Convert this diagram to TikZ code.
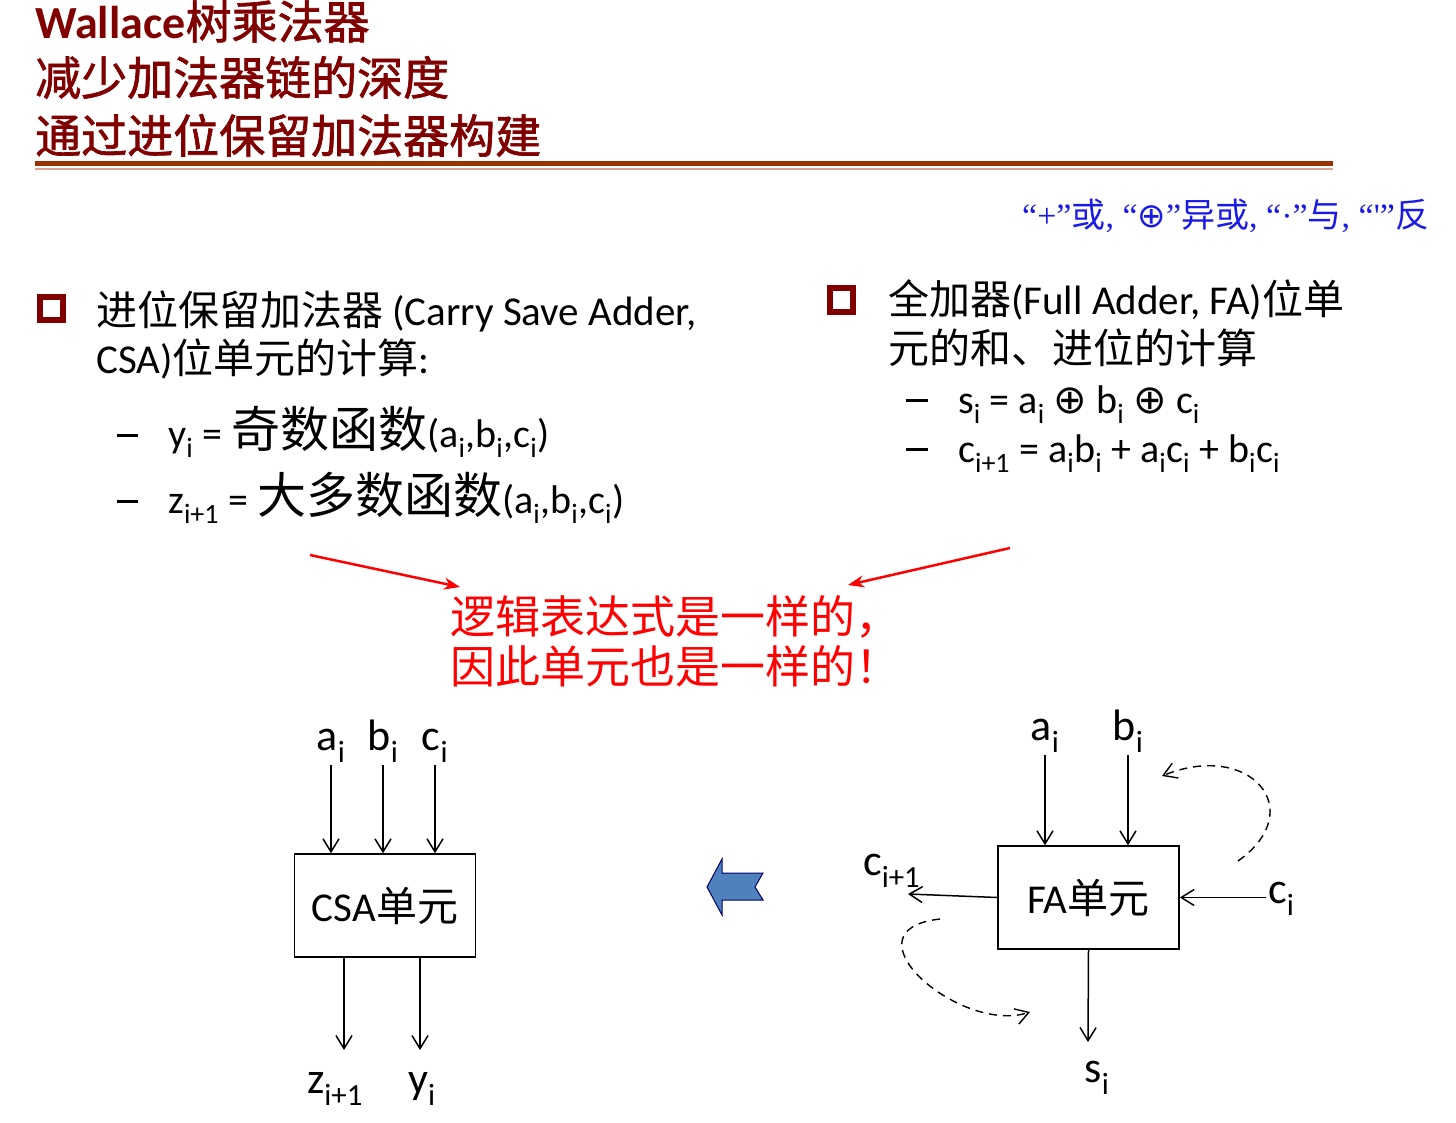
\documentclass[tikz,border=0pt]{standalone}
\usepackage{fontspec}
\setmainfont{Carlito}
\newfontfamily\cjk{Noto Sans CJK SC}
\newfontfamily\cjkh[FakeBold=1.5]{Noto Sans CJK SC}
\newfontfamily\tms{Liberation Serif}
\newfontfamily\sym{DejaVu Sans}
\usepackage{tikz}
\usetikzlibrary{arrows.meta}
\usetikzlibrary{positioning}

\definecolor{titlered}{HTML}{800000}
\definecolor{rulebrown}{HTML}{993300}
\definecolor{rulelight}{HTML}{D9A58F}
\definecolor{arrowblue}{HTML}{4F81BD}
\definecolor{notered}{HTML}{FF0000}
\definecolor{noteblue}{HTML}{1A1AE6}
\newcommand\fsz[1]{\fontsize{#1}{#1}\selectfont}
\newcommand\xor{{\sym ⊕}}

\begin{document}
\begin{tikzpicture}[x=1pt,y=-1pt,>={Straight Barb[length=13pt,width=16pt]},
	txt/.style={anchor=base west,inner sep=0pt},
	unit/.style={draw,line width=1.5pt,minimum width=181pt,minimum height=103pt,font=\fsz{41}},
	lbl/.style={inner sep=2pt,font=\fsz{44}},
	wire/.style={->,line width=1.5pt},
	loopline/.style={->,line width=1.4pt,dash pattern=on 8pt off 6pt},
	redarrow/.style={-{Stealth[length=16pt,width=12pt]},draw=notered,line width=2.5pt},
	sqbullet/.style={draw=titlered,line width=6pt,minimum size=23pt,inner sep=0pt},
	subdash/.style={anchor=base west,inner sep=0pt}]
	\useasboundingbox (0,0) rectangle (1456,1123);

	% title
	\node[txt,text=titlered,font=\fsz{46}] (title1) at (35,39) {\textbf{Wallace}{\cjkh 树乘法器}};
	\node[txt,text=titlered,font=\fsz{46}\cjkh] (title2) at (35,95) {减少加法器链的深度};
	\node[txt,text=titlered,font=\fsz{46}\cjkh] (title3) at (35,153) {通过进位保留加法器构建};
	\draw[rulebrown,line width=5pt] (35,163.5) -- (1333,163.5);
	\draw[rulelight,line width=2pt] (35,169) -- (1333,169);

	\node[txt,text=noteblue,font=\fsz{34}\tms] (legend) at (1022,228) {“+”{\cjk 或}, “\xor”{\cjk 异或}, “·”{\cjk 与}, “\textquotesingle”{\cjk 反}};

	% CSA text
	\node[sqbullet] (bul1) at (51.5,308.5) {};
	\node[txt,font=\fsz{41}] (csaline1) at (96,325) {{\cjk 进位保留加法器} (Carry Save Adder,};
	\node[txt,font=\fsz{41}] (csaline2) at (96,373) {CSA){\cjk 位单元的计算}:};
	\node[subdash] (dash1) at (117,447) {\rule[10.5pt]{21pt}{3pt}};
	\node[txt,font=\fsz{40}] (ydef) at (168,447) {y\textsubscript{i} = {\cjk\fsz{49}奇数函数}(a\textsubscript{i},b\textsubscript{i},c\textsubscript{i})};
	\node[subdash] (dash2) at (117,513) {\rule[10.5pt]{21pt}{3pt}};
	\node[txt,font=\fsz{40}] (zdef) at (168,513) {z\textsubscript{i+1} = {\cjk\fsz{49}大多数函数}(a\textsubscript{i},b\textsubscript{i},c\textsubscript{i})};

	% FA text
	\node[sqbullet] (bul2) at (841.5,300) {};
	\node[txt,font=\fsz{41}] (faline1) at (888,315) {{\cjk 全加器}(Full Adder, FA){\cjk 位单}};
	\node[txt,font=\fsz{41}\cjk] (faline2) at (888,363) {元的和、进位的计算};
	\node[subdash] (dash3) at (906,413) {\rule[11.5pt]{22pt}{3pt}};
	\node[txt,font=\fsz{40}] (sdef) at (958,413) {s\textsubscript{i} = a\textsubscript{i} \xor{} b\textsubscript{i} \xor{} c\textsubscript{i}};
	\node[subdash] (dash4) at (906,462) {\rule[11.5pt]{22pt}{3pt}};
	\node[txt,font=\fsz{40}] (cdef) at (958,462) {c\textsubscript{i+1} = a\textsubscript{i}b\textsubscript{i} + a\textsubscript{i}c\textsubscript{i} + b\textsubscript{i}c\textsubscript{i}};

	% red note
	\node[txt,text=notered,font=\fsz{45}\cjk] (same1) at (450,633) {逻辑表达式是一样的，};
	\node[txt,text=notered,font=\fsz{45}\cjk] (same2) at (450,683) {因此单元也是一样的！};
	\coordinate (ltail) at (310,555);
	\coordinate (lhead) at (460,587);
	\coordinate (rtail) at (1010,548);
	\coordinate (rhead) at (848,585);
	\draw[redarrow] (ltail) -- (lhead);
	\draw[redarrow] (rtail) -- (rhead);

	% CSA unit
	\node[unit] (csa) at (385,905.5) {CSA{\cjk 单元}};
	\node[lbl,anchor=base] (a1) at (331,750) {a\textsubscript{i}};
	\node[lbl,anchor=base] (b1) at (383,750) {b\textsubscript{i}};
	\node[lbl,anchor=base] (c1) at (435,750) {c\textsubscript{i}};
	\node[lbl,anchor=base] (z1) at (335,1093) {z\textsubscript{i+1}};
	\node[lbl,anchor=base] (y1) at (422,1093) {y\textsubscript{i}};
	\coordinate (zout) at (344,1050);
	\coordinate (yout) at (420,1050);

	\path[wire]	(a1) edge (a1 |- csa.north)
			(b1) edge (b1 |- csa.north)
			(c1) edge (c1 |- csa.north)
			(csa.south -| zout) edge (zout)
			(csa.south -| yout) edge (yout);

	% blue arrow
	\filldraw[fill=arrowblue,draw=black!60!blue,line width=1pt] (707,887) -- (722,859) -- (722,873) -- (763,873)
		-- (755,887) -- (763,900) -- (722,900) -- (722,915) -- cycle;

	% FA unit
	\node[unit] (fa) at (1088.5,897.5) {FA{\cjk 单元}};
	\node[lbl,anchor=base] (a2) at (1045,740) {a\textsubscript{i}};
	\node[lbl,anchor=base] (b2) at (1128,740) {b\textsubscript{i}};
	\node[lbl,anchor=base west] (c2) at (1266,903) {c\textsubscript{i}};
	\node[lbl,anchor=base west] (c3) at (861,875) {c\textsubscript{i+1}};
	\node[lbl,anchor=base] (s2) at (1097,1082) {s\textsubscript{i}};
	\coordinate (cout) at (908,894);
	\coordinate (sout) at (1088,1042);

	\path[wire]	(a2) edge (a2 |- fa.north)
			(b2) edge (b2 |- fa.north)
			(c2.west |- fa.east) edge (fa.east)
			(fa.west) edge (cout)
			(fa.south) edge (sout);

	% carry loops
	\coordinate (up1) at (1238,861);
	\coordinate (up2) at (1162,776);
	\coordinate (dn1) at (940,919);
	\coordinate (dn2) at (1030,1012);
	\draw[loopline] (up1) .. controls (1310,810) and (1250,740) .. (up2);
	\draw[loopline] (dn1) .. controls (840,930) and (960,1035) .. (dn2);
\end{tikzpicture}
\end{document}
